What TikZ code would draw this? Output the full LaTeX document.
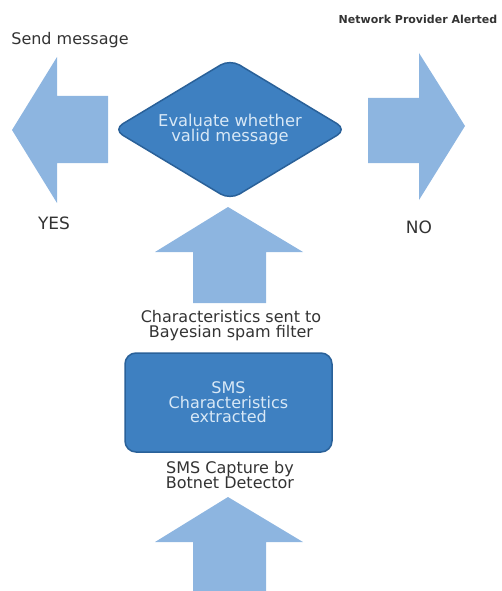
\documentclass[tikz,border=0pt]{standalone}
\usepackage{fontspec}
\setmainfont{DejaVu Sans}
\usetikzlibrary{shapes.geometric,positioning}
\definecolor{arrowblue}{HTML}{8DB5E0}
\definecolor{boxblue}{HTML}{3E80C1}
\definecolor{boxedge}{HTML}{2A6199}
\definecolor{txtgray}{HTML}{333333}
\definecolor{lighttxt}{HTML}{D8E8F6}

\begin{document}
\begin{tikzpicture}[x=1pt,y=-1pt,
    blockarrow/.style={fill=arrowblue,draw=none},
    label node/.style={text=txtgray,align=center,font=\fontsize{16}{15}\selectfont,inner sep=0pt},
    decision/.style={diamond,aspect=1.67,fill=boxblue,draw=boxedge,line width=1.5pt,rounded corners=11pt,text=lighttxt,align=center,font=\fontsize{16.3}{15}\selectfont,inner sep=0pt},
    process/.style={rectangle,fill=boxblue,draw=boxedge,line width=1.5pt,rounded corners=11pt,text=lighttxt,align=center,font=\fontsize{16}{14.5}\selectfont,inner sep=0pt}]

    \useasboundingbox (0,0) rectangle (501,591);

    % block arrows
    \fill[blockarrow] (12,130) -- (57,57) -- (57,96) -- (108,96) -- (108,163) -- (57,163) -- (57,203) -- cycle;
    \fill[blockarrow] (465,126) -- (419,53) -- (419,98) -- (368,98) -- (368,163) -- (419,163) -- (419,200) -- cycle;
    \fill[blockarrow] (228,207) -- (303,252) -- (266,252) -- (266,303) -- (193,303) -- (193,252) -- (155,252) -- cycle;
    \fill[blockarrow] (228,497) -- (303,542) -- (266,542) -- (266,591) -- (193,591) -- (193,542) -- (155,542) -- cycle;

    % boxes
    \node[decision, minimum width=234pt, minimum height=141pt] (eval) at (230,129.5) {Evaluate whether\\valid message};
    \node[process, minimum width=207pt, minimum height=99pt] (extract) at (228.5,402.5) {SMS\\Characteristics\\extracted};

    % labels
    \node[label node] (send) at (70,40) {Send message};
    \node[label node,font=\fontsize{17}{17}\selectfont] (yes) at (54,223) {YES};
    \node[label node,font=\fontsize{17}{17}\selectfont] (no) at (419,227) {NO};
    \node[label node,font=\bfseries\fontsize{11}{11}\selectfont] (alert) at (418,19) {Network Provider Alerted};
    \node[label node] (sent) at (231,326) {Characteristics sent to\\Bayesian spam filter};
    \node[label node] (capture) at (230,475) {SMS Capture by\\Botnet Detector};

\end{tikzpicture}
\end{document}
